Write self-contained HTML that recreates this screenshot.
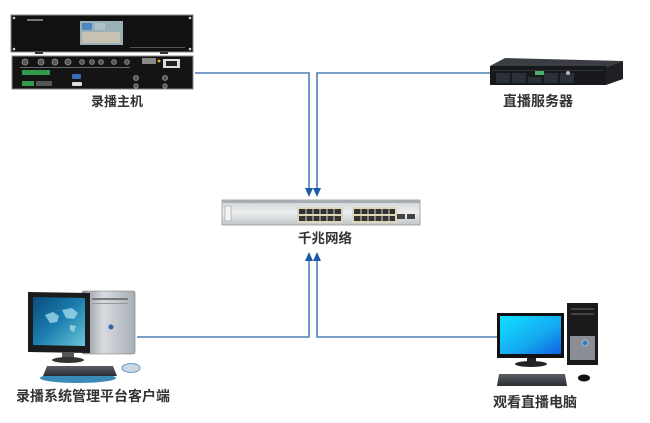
<!DOCTYPE html>
<html><head><meta charset="utf-8">
<style>
html,body{margin:0;padding:0;background:#fff;}
body{width:650px;height:423px;overflow:hidden;position:relative;}
svg{position:absolute;left:0;top:0;}
.lbl{font-family:"Liberation Sans","Noto Sans CJK SC",sans-serif;fill:#333;font-weight:bold;}
</style></head>
<body>
<svg width="650" height="423" viewBox="0 0 650 423" xmlns="http://www.w3.org/2000/svg">
<defs>
<linearGradient id="scrL" x1="0" y1="0" x2="1" y2="1">
<stop offset="0" stop-color="#0a4a7a"/><stop offset="0.5" stop-color="#1b7fb0"/><stop offset="1" stop-color="#6cc7d8"/>
</linearGradient>
<linearGradient id="scrR" x1="0" y1="0" x2="1" y2="1">
<stop offset="0" stop-color="#12e0ff"/><stop offset="0.6" stop-color="#14a8f0"/><stop offset="1" stop-color="#1060e0"/>
</linearGradient>
<linearGradient id="tower" x1="0" y1="0" x2="1" y2="0">
<stop offset="0" stop-color="#8a9098"/><stop offset="0.4" stop-color="#d8dce0"/><stop offset="1" stop-color="#a8aeb5"/>
</linearGradient>
<linearGradient id="sw" x1="0" y1="0" x2="0" y2="1">
<stop offset="0" stop-color="#cfd3d6"/><stop offset="0.5" stop-color="#eceeef"/><stop offset="1" stop-color="#c2c6c9"/>
</linearGradient>
<linearGradient id="kb" x1="0" y1="0" x2="0" y2="1">
<stop offset="0" stop-color="#5a5f66"/><stop offset="1" stop-color="#2a2d31"/>
</linearGradient>
</defs>

<!-- connectors -->
<g fill="none" stroke="#4f7fb8" stroke-width="1.6">
<polyline points="195,73 309,73 309,190"/>
<polyline points="492,73 317,73 317,190"/>
<polyline points="137,337 309,337 309,260"/>
<polyline points="497,337 317,337 317,260"/>
</g>
<g fill="#1d5aa8">
<polygon points="305,188 313,188 309,197"/>
<polygon points="313,188 321,188 317,197"/>
<polygon points="305,261 313,261 309,252"/>
<polygon points="313,261 321,261 317,252"/>
</g>

<!-- recorder front -->
<rect x="11" y="15" width="182" height="37" fill="#111" stroke="#888" stroke-width="1"/>
<rect x="80" y="21" width="43" height="24" fill="#9ab0b8"/>
<rect x="82" y="23" width="10" height="7" fill="#4a8ac0"/>
<rect x="95" y="23" width="10" height="7" fill="#b0c0c8"/>
<rect x="82" y="32" width="38" height="11" fill="#c8c0b0"/>
<rect x="27" y="19" width="16" height="2" fill="#777"/>
<rect x="130" y="47" width="55" height="1" fill="#555"/>
<circle cx="14" cy="18" r="1.3" fill="#ccc"/><circle cx="190" cy="18" r="1.3" fill="#ccc"/>
<circle cx="14" cy="49" r="1.3" fill="#ccc"/><circle cx="190" cy="49" r="1.3" fill="#ccc"/>
<rect x="35" y="52" width="8" height="2" fill="#333"/><rect x="160" y="52" width="8" height="2" fill="#333"/>
<!-- recorder back -->
<rect x="12" y="56" width="181" height="33" fill="#141414" stroke="#888" stroke-width="1"/>
<g fill="#555" stroke="#999" stroke-width="0.8">
<circle cx="25" cy="62" r="3"/><circle cx="41" cy="62" r="3"/><circle cx="55" cy="62" r="3"/><circle cx="68" cy="62" r="3"/>
<circle cx="82" cy="62" r="2.4"/><circle cx="92" cy="62" r="2.4"/><circle cx="101" cy="62" r="2.4"/><circle cx="114" cy="62" r="2.4"/><circle cx="127" cy="62" r="2.4"/>
<circle cx="136" cy="78" r="2.5"/><circle cx="165" cy="78" r="2.5"/><circle cx="165" cy="86" r="2.2"/><circle cx="136" cy="86" r="2.2"/>
</g>
<rect x="20" y="67" width="110" height="1" fill="#666"/>
<rect x="22" y="70" width="28" height="5" fill="#2f9a4a"/>
<rect x="22" y="81" width="12" height="5" fill="#2f9a4a"/>
<rect x="36" y="81" width="16" height="5" fill="#555"/>
<rect x="72" y="74" width="9" height="5" rx="1" fill="#3a6ab8"/>
<rect x="72" y="82" width="10" height="4" rx="1" fill="#ddd"/>
<rect x="142" y="58" width="14" height="6" fill="#888"/>
<circle cx="159" cy="61" r="1.5" fill="#e0b020"/>
<rect x="163" y="59" width="17" height="9" fill="#ddd"/><rect x="166" y="61" width="11" height="5" fill="#222"/>
<text x="117" y="106" class="lbl" font-size="13" text-anchor="middle">录播主机</text>

<!-- live server -->
<polygon points="490,66 505,58 623,61 606,67" fill="#3a3d42"/>
<polygon points="606,67 623,61 623,79 606,85" fill="#1e2024"/>
<rect x="490" y="66" width="116" height="19" fill="#16181b"/>
<rect x="492" y="70" width="112" height="1" fill="#333"/>
<g fill="#2a3038">
<rect x="496" y="73" width="14" height="10"/><rect x="512" y="73" width="14" height="10"/><rect x="528" y="77" width="14" height="6"/><rect x="544" y="73" width="14" height="10"/><rect x="560" y="73" width="14" height="10"/>
</g>
<rect x="535" y="71" width="9" height="4" fill="#4fae6a"/>
<circle cx="568" cy="73" r="2" fill="#bbb"/>
<text x="538" y="106" class="lbl" font-size="14" text-anchor="middle">直播服务器</text>

<!-- switch -->
<rect x="222" y="200" width="198" height="25" fill="url(#sw)" stroke="#999" stroke-width="0.8"/>
<rect x="222" y="200" width="198" height="3" fill="#a8adb2"/>
<rect x="225" y="206" width="6" height="15" fill="#f4f4f4" stroke="#999" stroke-width="0.6"/>
<rect x="297" y="207" width="46" height="16" fill="#ddd6b8"/>
<rect x="352" y="207" width="45" height="16" fill="#ddd6b8"/>
<g fill="#333">
<rect x="299" y="209" width="42" height="5"/><rect x="299" y="216" width="42" height="5"/>
<rect x="354" y="209" width="41" height="5"/><rect x="354" y="216" width="41" height="5"/>
</g>
<g stroke="#ddd6b8" stroke-width="1">
<line x1="306" y1="208" x2="306" y2="222"/><line x1="313" y1="208" x2="313" y2="222"/><line x1="320" y1="208" x2="320" y2="222"/><line x1="327" y1="208" x2="327" y2="222"/><line x1="334" y1="208" x2="334" y2="222"/>
<line x1="361" y1="208" x2="361" y2="222"/><line x1="368" y1="208" x2="368" y2="222"/><line x1="375" y1="208" x2="375" y2="222"/><line x1="382" y1="208" x2="382" y2="222"/><line x1="389" y1="208" x2="389" y2="222"/>
</g>
<rect x="397" y="214" width="8" height="5" fill="#444"/><rect x="407" y="214" width="8" height="5" fill="#444"/>
<text x="325" y="243" class="lbl" font-size="13.5" text-anchor="middle">千兆网络</text>

<!-- left PC -->
<rect x="82" y="291" width="53" height="63" rx="2" fill="url(#tower)" stroke="#777" stroke-width="0.6"/>
<rect x="92" y="298" width="36" height="2" fill="#777"/>
<rect x="92" y="303" width="36" height="1" fill="#999"/>
<circle cx="111" cy="327" r="3" fill="#2a6aa8" stroke="#ccc"/>
<polygon points="28,292 90,293 90,353 28,352" fill="#1a1c1f"/>
<polygon points="33,297 85,298 85,346 33,345" fill="url(#scrL)"/>
<path d="M45,315 l8,-3 6,4 -2,6 -7,1z M62,310 l10,-2 6,5 -4,6 -8,-1z M70,325 l6,1 -2,6 -4,-2z" fill="#9fd8e8" opacity="0.8"/>
<rect x="62" y="352" width="12" height="6" fill="#555"/>
<ellipse cx="68" cy="360" rx="16" ry="3" fill="#333"/>
<ellipse cx="78" cy="378" rx="38" ry="5" fill="#3a8ab8"/>
<polygon points="47,366 113,366 117,376 43,376" fill="url(#kb)"/>
<ellipse cx="131" cy="368" rx="9" ry="4.5" fill="#c8d8e4" stroke="#6a9ac0" stroke-width="1"/>
<text x="93" y="401" class="lbl" font-size="14" text-anchor="middle">录播系统管理平台客户端</text>

<!-- right PC -->
<rect x="567" y="303" width="31" height="62" fill="#1a1a1c"/>
<rect x="570" y="336" width="25" height="24" fill="#8a8e94"/>
<rect x="571" y="308" width="23" height="2" fill="#444"/>
<rect x="571" y="313" width="23" height="2" fill="#444"/>
<circle cx="585" cy="343" r="3" fill="#2a7ac0" stroke="#ccc" stroke-width="0.8"/>
<rect x="497" y="313" width="67" height="45" fill="#111"/>
<rect x="500" y="316" width="61" height="38" fill="url(#scrR)"/>
<rect x="527" y="358" width="9" height="4" fill="#222"/>
<ellipse cx="531" cy="364" rx="16" ry="3" fill="#222"/>
<polygon points="499,374 565,374 567,386 497,386" fill="url(#kb)"/>
<ellipse cx="584" cy="378" rx="6" ry="3.5" fill="#111"/>
<text x="535" y="407" class="lbl" font-size="14" text-anchor="middle">观看直播电脑</text>
</svg>
</body></html>
